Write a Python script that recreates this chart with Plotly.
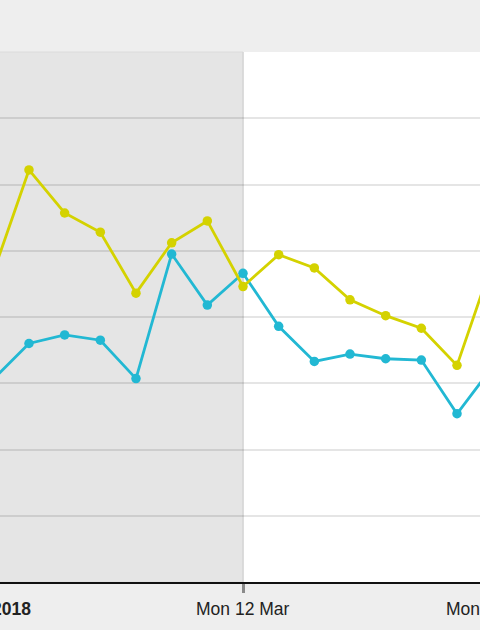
import plotly.graph_objects as go

# dni (oś X) i wartości obu serii
dates = [
    "2018-03-05", "2018-03-06", "2018-03-07", "2018-03-08", "2018-03-09",
    "2018-03-10", "2018-03-11", "2018-03-12", "2018-03-13", "2018-03-14",
    "2018-03-15", "2018-03-16", "2018-03-17", "2018-03-18", "2018-03-19",
]
yellow_values = [46.7, 62.2, 55.7, 52.8, 43.6, 51.2, 54.5, 44.6,
                 49.4, 47.4, 42.6, 40.2, 38.3, 32.7, 48.4]
blue_values = [30.6, 36.0, 37.3, 36.5, 30.7, 49.5, 41.8, 46.6,
               38.6, 33.3, 34.4, 33.7, 33.5, 25.4, 32.5]

tick_dates = ["2018-03-05", "2018-03-12", "2018-03-19"]
tick_labels = ["<b>Mar 2018</b>", "Mon 12 Mar", "Mon 19 Mar"]
shade_end = "2018-03-12"

fig = go.Figure()

for vals, color in [(blue_values, "#22b8d3"), (yellow_values, "#d4d200")]:
    fig.add_trace(
        go.Scatter(
            x=dates,
            y=vals,
            mode="lines+markers",
            line=dict(color=color, width=2.8),
            marker=dict(color=color, size=9.5),
            showlegend=False,
            hoverinfo="skip",
        )
    )

# szary obszar (przeszłość) + pionowa linia
fig.add_shape(
    type="rect", xref="x", yref="paper",
    x0="2018-02-25", x1=shade_end, y0=0, y1=1,
    fillcolor="#e5e5e5", line=dict(color="#dcdcdc", width=1), layer="below",
)
fig.add_shape(
    type="line", xref="x", yref="paper",
    x0=shade_end, x1=shade_end, y0=0, y1=1,
    line=dict(color="#d6d6d6", width=1.5), layer="below",
)

# etykiety osi X jako adnotacje (wychodzą poza zakres osi)
x_start = "2018-03-05 04:30"
x_end = "2018-03-18 15:28"
t0 = 4.5 / 24
span = 13 + (15 + 28 / 60) / 24 - t0
for d, label in zip(tick_dates, tick_labels):
    day = int(d[-2:]) - 5
    frac = (day - t0) / span
    fig.add_annotation(
        x=frac, y=-0.05, xref="paper", yref="paper",
        text=label, showarrow=False, xanchor="center", yanchor="middle",
        font=dict(family="Liberation Sans, Arial", size=17.5, color="#222222"),
    )

fig.update_layout(
    width=480,
    height=630,
    margin=dict(l=0, r=0, t=52, b=48),
    paper_bgcolor="#eeeeee",
    plot_bgcolor="white",
    dragmode=False,
    xaxis=dict(
        type="date",
        range=[x_start, x_end],
        showgrid=False,
        showline=True,
        linecolor="#111111",
        linewidth=1.5,
        tickvals=[shade_end],
        ticktext=[""],
        ticks="outside",
        ticklen=9,
        tickwidth=2.5,
        tickcolor="#8a8a8a",
        zeroline=False,
    ),
    yaxis=dict(
        range=[0, 80],
        dtick=10,
        showticklabels=False,
        gridcolor="rgba(0,0,0,0.1)",
        gridwidth=1.5,
        zeroline=False,
        showline=False,
    ),
)

fig.write_html(
    "out.html",
    config={"displayModeBar": False},
    post_script="document.body.style.margin='0';document.body.style.overflow='hidden';",
)
